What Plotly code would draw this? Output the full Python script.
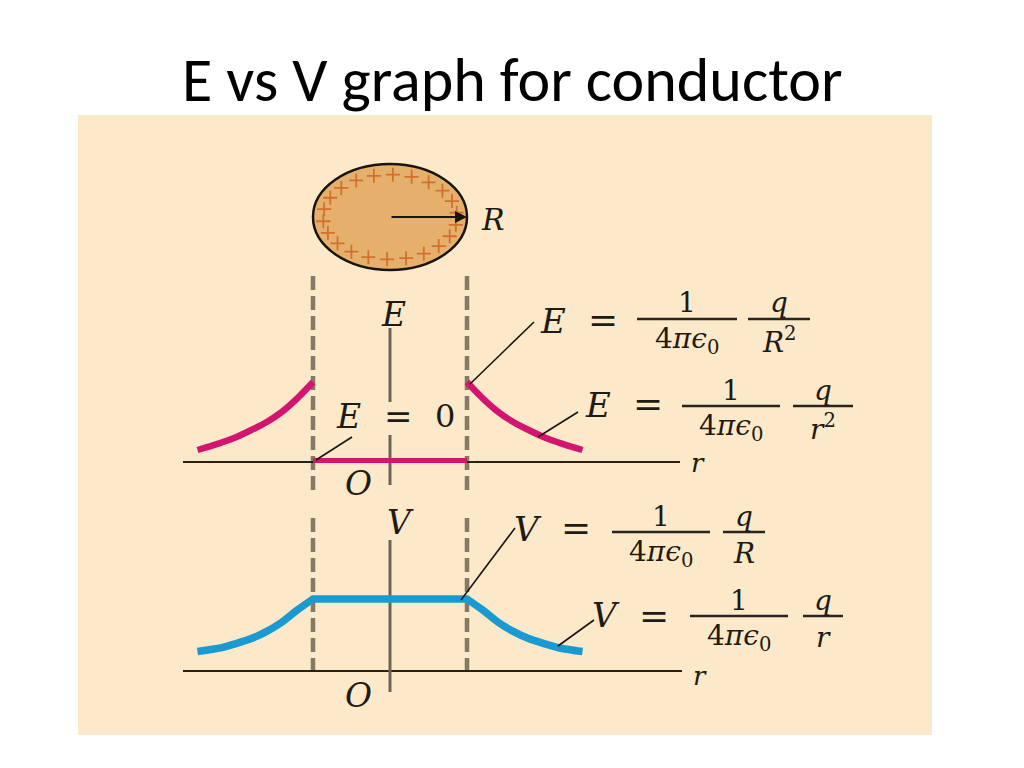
import math
import plotly.graph_objects as go

# ---------------- data ----------------
r_out = [1.0, 1.2, 1.4, 1.6, 1.8, 2.0, 2.2, 2.5]          # r / R outside the sphere
E_out = [1.0, 0.80, 0.63, 0.50, 0.40, 0.31, 0.24, 0.15]   # E / E(R)
V_out = [1.0, 0.85, 0.68, 0.55, 0.45, 0.38, 0.32, 0.27]   # V / V(R)
r_in = [-1.0, 1.0]                                         # inside the conductor
E_in = [0.02, 0.02]                                        # E = 0 inside
V_in = [1.0, 1.0]                                          # V constant inside
n_charges = 22                                             # "+" marks on the surface

title_text = "E vs V graph for conductor"

# ---------------- geometry of the canvas ----------------
OFF = 8                        # page body margin
W, H = 1024 - OFF, 768 - OFF   # figure size
X0_PX, R_PX = 390, 77          # x pixel of the centre, pixels per R
E0_PX, E_PX = 462, 80          # baseline pixel / pixels per unit of E(R)
V0_PX, V_PX = 671, 72          # baseline pixel / pixels per unit of V(R)
C0_PX, C_PX = 217, 53          # sphere centre pixel / vertical pixels per R

def paper(xp, yp):
    return (xp - OFF) / W, 1 - (yp - OFF) / H

PINK = "#d4156f"
BLUE = "#1b9ad2"
DASH = "#857a66"
AXV = "#6e6454"
BG = "#fce9c9"
SERIF = "DejaVu Serif"

fig = go.Figure()

# E curves
fig.add_trace(go.Scatter(x=[-r for r in r_out], y=E_out, mode="lines", yaxis="y",
                         line=dict(color=PINK, width=6.5, shape="spline", smoothing=1.2)))
fig.add_trace(go.Scatter(x=r_out, y=E_out, mode="lines", yaxis="y",
                         line=dict(color=PINK, width=6.5, shape="spline", smoothing=1.2)))
fig.add_trace(go.Scatter(x=r_in, y=E_in, mode="lines", yaxis="y",
                         line=dict(color=PINK, width=5)))

# V curve
vx = [-r for r in reversed(r_out)] + r_in + r_out
vy = list(reversed(V_out)) + V_in + V_out
fig.add_trace(go.Scatter(x=vx, y=vy, mode="lines", yaxis="y2",
                         line=dict(color=BLUE, width=7.5, shape="spline", smoothing=0.6)))

# charges on sphere
ang = [2 * math.pi * k / n_charges + 0.1 for k in range(n_charges)]
fig.add_trace(go.Scatter(x=[0.87 * math.cos(a) for a in ang],
                         y=[0.8 * math.sin(a) for a in ang], yaxis="y3", mode="markers",
                         marker=dict(symbol="cross-thin", size=10,
                                     line=dict(color="#d2702c", width=1.8))))

shapes = []
# panel
x0p, y1p = paper(78, 115)
x1p, y0p = paper(932, 735)
shapes.append(dict(type="rect", xref="paper", yref="paper", x0=x0p, x1=x1p, y0=y0p, y1=y1p,
                   fillcolor=BG, line=dict(width=0), layer="below"))
# sphere
shapes.append(dict(type="circle", xref="x", yref="y3", x0=-1, x1=1, y0=-1, y1=1,
                   fillcolor="#e4b06c", line=dict(color="#1a1410", width=2.5), layer="below"))

def eu(yp):
    return (E0_PX - yp) / E_PX

def vu(yp):
    return (V0_PX - yp) / V_PX

def xu(xp):
    return (xp - X0_PX) / R_PX

# dashed lines
for s in (-1, 1):
    shapes.append(dict(type="line", xref="x", yref="y", x0=s, x1=s, y0=eu(276), y1=eu(490),
                       line=dict(color=DASH, width=4.5, dash="14px,6px"), layer="below"))
    shapes.append(dict(type="line", xref="x", yref="y2", x0=s, x1=s, y0=vu(518), y1=vu(671),
                       line=dict(color=DASH, width=4.5, dash="14px,6px"), layer="below"))
# horizontal axes
shapes.append(dict(type="line", xref="x", yref="y", x0=xu(183), x1=xu(680), y0=0, y1=0,
                   line=dict(color="#2a2116", width=2), layer="below"))
shapes.append(dict(type="line", xref="x", yref="y2", x0=xu(183), x1=xu(682), y0=0, y1=0,
                   line=dict(color="#2a2116", width=2), layer="below"))
# vertical axes
shapes.append(dict(type="line", xref="x", yref="y", x0=0, x1=0, y0=eu(328), y1=eu(402),
                   line=dict(color=AXV, width=3), layer="below"))
shapes.append(dict(type="line", xref="x", yref="y", x0=0, x1=0, y0=eu(435), y1=eu(485),
                   line=dict(color=AXV, width=3), layer="below"))
shapes.append(dict(type="line", xref="x", yref="y2", x0=0, x1=0, y0=vu(540), y1=vu(692),
                   line=dict(color=AXV, width=3), layer="below"))

# pointer lines (pixel positions)
def pline(x1, y1, x2, y2, w=1.6, color="#1a1410"):
    a, b = paper(x1, y1)
    c, d = paper(x2, y2)
    shapes.append(dict(type="line", xref="paper", yref="paper", x0=a, y0=b, x1=c, y1=d,
                       line=dict(color=color, width=w)))

pline(470, 384, 534, 322)
pline(538, 437, 578, 412)
pline(316, 460, 352, 437)
pline(461, 600, 515, 528)
pline(558, 646, 594, 620)

annotations = []

def txt(xp, yp, text, size=30, family=SERIF, color="#1e1a14", xanchor="center"):
    a, b = paper(xp, yp)
    annotations.append(dict(xref="paper", yref="paper", x=a, y=b, text=text, showarrow=False,
                            xanchor=xanchor, yanchor="middle",
                            font=dict(family=family, size=size, color=color)))

def frac(xl, xr, y, num, den, size=28):
    pline(xl, y, xr, y, w=2.5, color="#2a2420")
    txt((xl + xr) / 2, y - 16, num, size=size)
    txt((xl + xr) / 2, y + 21, den, size=size)

DEN = "4<i>π</i><i>ϵ</i><sub>0</sub>"

# E = 1/(4 pi eps0) q/R^2
txt(553, 321, "<i>E</i>", size=34)
txt(603, 320, "=", size=36)
frac(637, 737, 319, "1", DEN)
frac(748, 810, 319, "<i>q</i>", "<i>R</i><sup>2</sup>")
# E = 1/(4 pi eps0) q/r^2
txt(598, 405, "<i>E</i>", size=34)
txt(648, 404, "=", size=36)
frac(682, 780, 406, "1", DEN)
frac(793, 853, 406, "<i>q</i>", "<i>r</i><sup>2</sup>")
# V = 1/(4 pi eps0) q/R
txt(528, 529, "<i>V</i>", size=34)
txt(576, 527, "=", size=36)
frac(612, 710, 532, "1", DEN)
frac(723, 765, 532, "<i>q</i>", "<i>R</i>")
# V = 1/(4 pi eps0) q/r
txt(606, 615, "<i>V</i>", size=34)
txt(654, 615, "=", size=36)
frac(690, 788, 616, "1", DEN)
frac(803, 843, 616, "<i>q</i>", "<i>r</i>")

# axis labels
txt(393, 314, "<i>E</i>", size=33)
txt(400, 522, "<i>V</i>", size=33)
txt(348, 416, "<i>E</i>", size=33)
txt(398, 416, "=", size=34)
txt(445, 416, "0", size=32)
txt(358, 483, "<i>O</i>", size=33)
txt(358, 695, "<i>O</i>", size=33)
txt(698, 463, "<i>r</i>", size=26)
txt(700, 676, "<i>r</i>", size=26)
txt(493, 219, "<i>R</i>", size=30)

# radius arrow
annotations.append(dict(xref="x", yref="y3", axref="x", ayref="y3", x=1, y=0, ax=0, ay=0,
                        text="", showarrow=True, arrowhead=2, arrowsize=1.2, arrowwidth=2,
                        arrowcolor="#1a1410"))

# title
txt(512, 80, title_text, size=62, family="Carlito, Liberation Sans Narrow, Open Sans",
    color="#000000")

fig.update_layout(
    width=W, height=H, margin=dict(l=0, r=0, t=0, b=0),
    paper_bgcolor="white", plot_bgcolor="rgba(0,0,0,0)", showlegend=False,
    xaxis=dict(domain=[0, 1], range=[-(X0_PX - OFF) / R_PX, (W - (X0_PX - OFF)) / R_PX],
               visible=False, fixedrange=True),
    yaxis=dict(domain=[0, 1], range=[-(H - (E0_PX - OFF)) / E_PX, (E0_PX - OFF) / E_PX],
               visible=False, fixedrange=True),
    yaxis2=dict(overlaying="y", range=[-(H - (V0_PX - OFF)) / V_PX, (V0_PX - OFF) / V_PX],
                visible=False, fixedrange=True),
    yaxis3=dict(overlaying="y", range=[-(H - (C0_PX - OFF)) / C_PX, (C0_PX - OFF) / C_PX],
                visible=False, fixedrange=True),
    shapes=shapes, annotations=annotations,
)

fig.write_html("out.html")
